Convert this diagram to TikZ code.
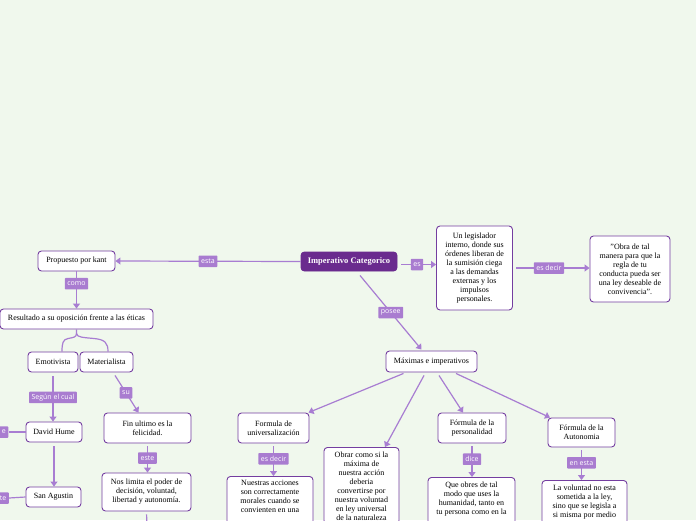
\documentclass[tikz,border=0pt]{standalone}
\usepackage{fontspec}
\setmainfont{Liberation Serif}
\newfontfamily\lblfont{Open Sans}
\usetikzlibrary{arrows.meta,calc}
\definecolor{bgc}{RGB}{240,248,237}
\definecolor{bord}{RGB}{116,62,160}
\definecolor{edgec}{RGB}{168,125,210}
\definecolor{lblc}{RGB}{169,124,208}
\definecolor{mainc}{RGB}{106,43,142}
\tikzset{
 box/.style={draw=bord,fill=white,rounded corners=3.5pt,line width=0.9pt,font=\fontsize{8}{9}\selectfont,align=center,inner xsep=2pt,inner ysep=4pt},
 mainbox/.style={box,fill=mainc,draw=mainc,text=white,font=\fontsize{8.5}{10}\selectfont\bfseries},
 lbl/.style={fill=lblc,text=white,font=\lblfont\fontsize{7}{8}\selectfont,inner xsep=2.5pt,inner ysep=1pt,minimum height=11.5pt,rounded corners=0.8pt},
 edge/.style={draw=edgec,line width=1.2pt,-{Triangle[width=7pt,length=5pt]}},
 plain/.style={draw=edgec,line width=1.2pt},
}
\begin{document}
\begin{tikzpicture}[x=1pt,y=-1pt]
\useasboundingbox (0,0) rectangle (696,520);
\clip (0,0) rectangle (696,520);
\fill[bgc] (0,0) rectangle (696,520);

% nodes
\node[mainbox,minimum width=96pt,minimum height=19pt] (imp) at (349,261.5) {Imperativo Categorico};
\node[box,minimum width=77pt,minimum height=20pt] (prop) at (76.5,261) {Propuesto por kant};
\node[box,minimum width=153pt,minimum height=20pt] (res) at (76.5,319) {Resultado a su oposición frente a las éticas};
\node[box,minimum width=50pt,minimum height=20pt] (emo) at (53,362) {Emotivista};
\node[box,minimum width=53pt,minimum height=20pt] (mat) at (106.5,362) {Materialista};
\node[box,minimum width=56pt,minimum height=20pt] (hume) at (54,432) {David Hume};
\node[box,minimum width=55pt,minimum height=20pt] (agus) at (53.5,497) {San Agustin};
\node[box,minimum width=87pt,minimum height=30pt] (fin) at (147.5,428) {Fin ultimo es la\\felicidad.};
\node[box,minimum width=89pt,minimum height=38pt] (nos) at (146.5,492) {Nos limita el poder de\\decisión, voluntad,\\libertad y autonomía.};
\node[box,minimum width=91pt,minimum height=21pt] (max) at (431.5,361.5) {Máximas e imperativos};
\node[box,minimum width=71pt,minimum height=30pt] (fu) at (273.5,428) {Formula de\\universalización};
\node[box,minimum width=86pt,anchor=north] (nue) at (270,476) {Nuestras acciones\\son correctamente\\morales cuando se\\convienten en una\\\mbox{}};
\node[box,minimum width=75pt,anchor=north] (obr) at (361.5,447) {Obrar como si la\\máxima de\\nuestra acción\\deberia\\convertirse por\\nuestra voluntad\\en ley universal\\de la naturaleza};
\node[box,minimum width=68pt,minimum height=30pt] (fp) at (472,428) {Fórmula de la\\personalidad};
\node[box,minimum width=87pt,anchor=north] (que) at (471.5,477) {Que obres de tal\\modo que uses la\\humanidad, tanto en\\tu persona como en la\\\mbox{}};
\node[box,minimum width=67pt,minimum height=29pt] (fa) at (581.5,432.5) {Fórmula de la\\Autonomia};
\node[box,minimum width=85pt,anchor=north] (vol) at (584.5,480) {La voluntad no esta\\sometida a la ley,\\sino que se legisla a\\si misma por medio\\\mbox{}};
\node[box,minimum width=76pt,minimum height=84pt] (leg) at (474.5,268) {Un legislador\\interno, donde sus\\órdenes liberan de\\la sumisión ciega\\a las demandas\\externas y los\\impulsos\\personales.};
\node[box,minimum width=80pt,minimum height=66pt] (obra) at (630,269) {"Obra de tal\\manera para que la\\regla de tu\\conducta pueda ser\\una ley deseable de\\convivencia".};

% partial labels at left edge
\node[lbl,anchor=east] (la) at (8.5,432) {e};
\node[lbl,anchor=east] (lb) at (9,498) {te};
\coordinate (nosend) at (147,530);
\coordinate (esS) at ($(imp.east)+(4,3)$);

% connectors
\draw[edge] (imp.west) -- node[lbl,pos=0.5]{esta} (prop.east);
\draw[edge] (prop.south) -- node[lbl,pos=0.33]{como} (res.north);
\draw[plain] (res.south) -- ++(0,4) .. controls +(0,4) and (73,337.5) .. (68,338.5) .. controls (63,339.5) and (62,343) .. ($(emo.north)+(9,0)$);
\draw[plain] ($(res.south)+(0,4)$) .. controls +(0,4) and (84,337.5) .. (94,338.5) .. controls (105,339.5) and (108,343) .. ($(mat.north)+(1.5,0)$);
\draw[edge,shorten <=4pt] (emo.south) -- node[lbl,pos=0.51]{Según el cual} (emo.south |- hume.north);
\draw[edge,shorten <=4pt] (hume.south) -- (hume.south |- agus.north);
\draw[plain] (hume.west) -- (la.east);
\draw[plain] (agus.west) -- (lb.east);
\draw[edge] ($(mat.south)+(8.5,3)$) -- node[lbl,pos=0.47]{su} ($(fin.north)+(-9,0)$);
\draw[edge,shorten <=3pt] (fin.south) -- node[lbl,pos=0.5]{este} (fin.south |- nos.north);
\draw[plain,shorten <=3pt] (nos.south) -- (nosend);
\draw[edge] ($(imp.south)+(11,4)$) -- node[lbl,pos=0.5]{posee} ($(max.north)+(-10,-1)$);
\draw[edge] (esS) -- node[lbl,pos=0.45]{es} (esS -| leg.west);
\draw[edge,shorten <=3.5pt] (leg.east) -- node[lbl,pos=0.47]{es decir} (leg.east -| obra.west);
\draw[edge] ($(max.south)+(-28,1)$) -- ($(fu.north)+(35,0)$);
\draw[edge] ($(max.south)+(-7.5,3)$) -- ($(obr.north)+(23.5,0)$);
\draw[edge] ($(max.south)+(7.5,3)$) -- ($(fp.north)+(-9,0)$);
\draw[edge] ($(max.south)+(24.5,1)$) -- ($(fa.north)+(-31.5,0)$);
\draw[edge,shorten <=3pt] (fu.south) -- node[lbl,pos=0.47]{es decir} (fu.south |- nue.north);
\draw[edge,shorten <=3pt] (fp.south) -- node[lbl,pos=0.47]{dice} (fp.south |- que.north);
\draw[edge,shorten <=3pt] (fa.south) -- node[lbl,pos=0.47]{en esta} (fa.south |- vol.north);
\end{tikzpicture}
\end{document}
